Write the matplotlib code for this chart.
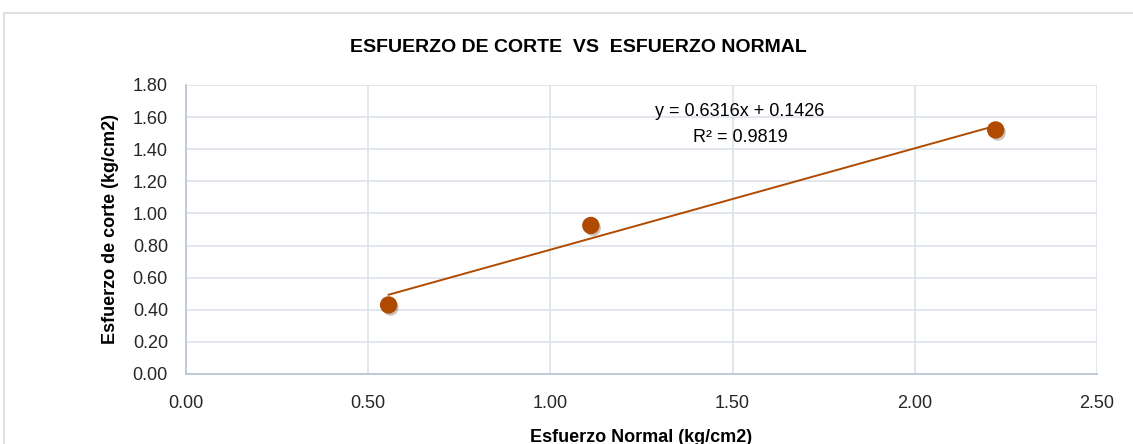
import matplotlib
matplotlib.use("Agg")
import matplotlib.pyplot as plt
import matplotlib.patheffects as pe
from matplotlib.patches import Rectangle
import numpy as np

# datos
esfuerzo_normal = [0.556, 1.111, 2.222]
esfuerzo_corte = [0.43, 0.925, 1.52]
pendiente = 0.6316
intercepto = 0.1426
r2 = 0.9819

titulo = "ESFUERZO DE CORTE  VS  ESFUERZO NORMAL"
etiqueta_x = "Esfuerzo Normal (kg/cm2)"
etiqueta_y = "Esfuerzo de corte (kg/cm2)"

plt.rcParams['font.family'] = ['Liberation Sans', 'DejaVu Sans']

color = "#b04a00"

fig = plt.figure(figsize=(11.33, 4.44), dpi=100)
fig.patches.append(Rectangle((4 / 1133, -0.05), 1.1, 1 - 13 / 444 + 0.05,
                             transform=fig.transFigure, fill=False,
                             edgecolor="#d9d9d9", linewidth=1.2))
ax = fig.add_axes([186 / 1133, 1 - 374 / 444, (1097 - 186) / 1133, (374 - 85) / 444])

# linea de tendencia
xt = np.array([min(esfuerzo_normal), max(esfuerzo_normal)])
ax.plot(xt, pendiente * xt + intercepto, color=color, linewidth=1.4, zorder=3)

ax.plot(esfuerzo_normal, esfuerzo_corte, 'o', color=color, markersize=11.5,
        markeredgecolor=color, zorder=4,
        path_effects=[pe.SimplePatchShadow(offset=(1.5, -2), alpha=0.25), pe.Normal()])

ax.text(1.52, 1.635, f"y = {pendiente}x + {intercepto}", ha='center', va='center', fontsize=13)
ax.text(1.52, 1.475, f"R² = {r2}", ha='center', va='center', fontsize=13)

ax.set_xlim(0, 2.5)
ax.set_ylim(0, 1.8)
ax.set_xticks(np.arange(0, 2.51, 0.5))
ax.set_yticks(np.arange(0, 1.81, 0.2))
ax.xaxis.set_major_formatter(matplotlib.ticker.FormatStrFormatter('%.2f'))
ax.yaxis.set_major_formatter(matplotlib.ticker.FormatStrFormatter('%.2f'))
ax.tick_params(length=0, labelsize=13, colors="#262626")
ax.tick_params(axis='x', pad=15)
ax.tick_params(axis='y', pad=13)
ax.grid(True, color="#dde3ea", linewidth=1.2)
ax.set_axisbelow(True)
for s in ['top', 'right']:
    ax.spines[s].set_visible(False)
for s in ['left', 'bottom']:
    ax.spines[s].set_color("#b8c2d2")
    ax.spines[s].set_linewidth(1.2)

ax.set_xlabel(etiqueta_x, fontsize=13, fontweight='bold', labelpad=12)
ax.set_ylabel(etiqueta_y, fontsize=13, fontweight='bold', labelpad=10)
fig.text(578 / 1133, 1 - 48 / 444, titulo, ha='center', va='center',
         fontsize=14, fontweight='bold')

fig.savefig("out.png", dpi=100)
